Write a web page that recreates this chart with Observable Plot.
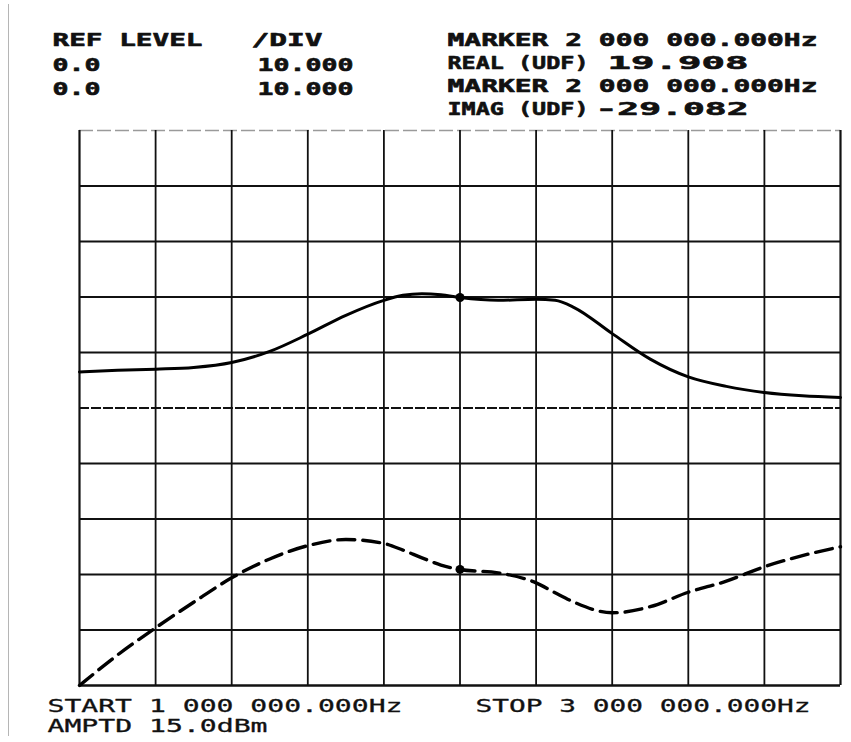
<!DOCTYPE html>
<html>
<head>
<meta charset="utf-8">
<script src="https://cdn.jsdelivr.net/npm/d3@7"></script>
<script src="https://cdn.jsdelivr.net/npm/@observablehq/plot@0.6"></script>
<style>
  html, body { margin: 0; padding: 0; background: #fff; }
  #wrap { position: relative; width: 851px; height: 742px; overflow: hidden; }
  #wrap svg { position: absolute; left: 0; top: 0; }
  #edge { position: absolute; left: 8px; top: 4px; height: 732px; border-left: 1px solid #b5b5b5; }
</style>
</head>
<body>
<div id="wrap"><div id="edge"></div></div>
<script>
// ---------- data ----------
const freqMHz = [1.0, 1.1, 1.2, 1.3, 1.4, 1.5, 1.6, 1.7, 1.8, 1.85, 1.9, 1.95, 2.0, 2.1, 2.2, 2.25, 2.3, 2.4, 2.5, 2.6, 2.7, 2.8, 2.9, 3.0];
const realUDF = [6.5, 6.8, 7.0, 7.3, 8.2, 10.2, 13.3, 16.7, 19.4, 20.3, 20.6, 20.4, 19.9, 19.4, 19.6, 19.4, 18.1, 13.4, 8.8, 5.6, 3.9, 2.8, 2.2, 1.9];
const imagUDF = [-50.0, -44.5, -39.6, -35.0, -30.6, -27.2, -24.8, -23.7, -24.4, -25.6, -27.0, -28.3, -29.1, -29.7, -31.5, -33.3, -35.0, -36.9, -35.8, -33.2, -31.2, -28.6, -26.6, -25.0];

const markerFreqMHz = 2.0;
const markerReal = 19.908;
const markerImag = -29.082;

const xGridMHz = [1.0, 1.2, 1.4, 1.6, 1.8, 2.0, 2.2, 2.4, 2.6, 2.8, 3.0];
const yGrid = [-50, -40, -30, -20, -10, 0, 10, 20, 30, 40, 50];

const leftLabels = ["REF LEVEL", "0.0", "0.0"];
const divLabels = ["/DIV", "10.000", "10.000"];
const markerLabels = ["MARKER 2 000 000.000Hz", "REAL (UDF)", "MARKER 2 000 000.000Hz", "IMAG (UDF)"];
const readoutLabels = ["19.908", "-29.082"];
const footerLabels = ["START 1 000 000.000Hz", "STOP 3 000 000.000Hz", "AMPTD 15.0dBm"];

// ---------- layout (style only) ----------
const M = {left: 79, right: 11, top: 130, bottom: 57};
const hdrFont = {fontFamily: "DejaVu Sans Mono", fontWeight: "bold", fontSize: 18, stroke: "#111", strokeWidth: 0.6};
const ftrFont = {fontFamily: "DejaVu Sans Mono", fontWeight: "normal", fontSize: 17, stroke: "#111", strokeWidth: 0.3};
// [x, baseline, width] for each text piece
const leftPos = [[52, 45, 150], [52, 70, 48], [52, 94, 48]];
const divPos = [[251, 45, 71], [257, 70, 96], [257, 94, 96]];
const markerPos = [[447, 45, 370], [447, 68, 141], [447, 91, 370], [447, 114, 141]];
const readoutPos = [[607, 68, 141], [595, 114, 153]];
const footerPos = [[47, 711, 355], [475, 711, 335], [47, 731, 220]];

const table = freqMHz.map((f, i) => ({f, re: realUDF[i], im: imagUDF[i]}));

function labelMarks(labels, pos, font) {
  return labels.map((t, i) => Plot.text([t], {
    frameAnchor: "top-left",
    dx: pos[i][0] - M.left,
    dy: pos[i][1] - M.top,
    textAnchor: "start",
    lineAnchor: "bottom",
    fill: "#111",
    ...font
  }));
}

const widthOf = new Map();
[[leftLabels, leftPos], [divLabels, divPos], [markerLabels, markerPos], [readoutLabels, readoutPos], [footerLabels, footerPos]]
  .forEach(([labs, pos]) => labs.forEach((t, i) => widthOf.set(t, pos[i][2])));

const interiorX = xGridMHz.slice(1, -1);
const interiorY = yGrid.filter(v => v !== 0 && v !== 50 && v !== -50);

const svg = Plot.plot({
  width: 851,
  height: 742,
  marginLeft: M.left,
  marginRight: M.right,
  marginTop: M.top,
  marginBottom: M.bottom,
  x: {domain: [1, 3], axis: null},
  y: {domain: [-50, 50], axis: null},
  marks: [
    Plot.ruleY([50], {stroke: "#9a9a9a", strokeWidth: 1.3, strokeDasharray: "14,4"}),
    Plot.ruleY(interiorY, {stroke: "#111", strokeWidth: 1.8}),
    Plot.ruleY([0], {stroke: "#111", strokeWidth: 1.9, strokeDasharray: "10,2"}),
    Plot.ruleX(interiorX, {stroke: "#111", strokeWidth: 1.8}),
    Plot.ruleX([xGridMHz[0], xGridMHz[xGridMHz.length - 1]], {stroke: "#111", strokeWidth: 2.2}),
    Plot.ruleY([-50], {stroke: "#111", strokeWidth: 2.6}),
    Plot.line(table, {x: "f", y: "re", stroke: "#000", strokeWidth: 3, curve: "monotone-x"}),
    Plot.line(table, {x: "f", y: "im", stroke: "#000", strokeWidth: 3.4, strokeDasharray: "17,8", curve: "monotone-x"}),
    Plot.dot([{f: markerFreqMHz, v: markerReal}, {f: markerFreqMHz, v: markerImag}], {x: "f", y: "v", r: 4.5, fill: "#000", stroke: "none"}),
    ...labelMarks(leftLabels, leftPos, hdrFont),
    ...labelMarks(divLabels, divPos, hdrFont),
    ...labelMarks(markerLabels, markerPos, hdrFont),
    ...labelMarks(readoutLabels, readoutPos, hdrFont),
    ...labelMarks(footerLabels, footerPos, ftrFont)
  ]
});

d3.select(svg).selectAll("text").each(function () {
  const w = widthOf.get(this.textContent);
  if (w) {
    this.setAttribute("textLength", w);
    this.setAttribute("lengthAdjust", "spacingAndGlyphs");
  }
});

document.getElementById("wrap").appendChild(svg);
</script>
</body>
</html>
